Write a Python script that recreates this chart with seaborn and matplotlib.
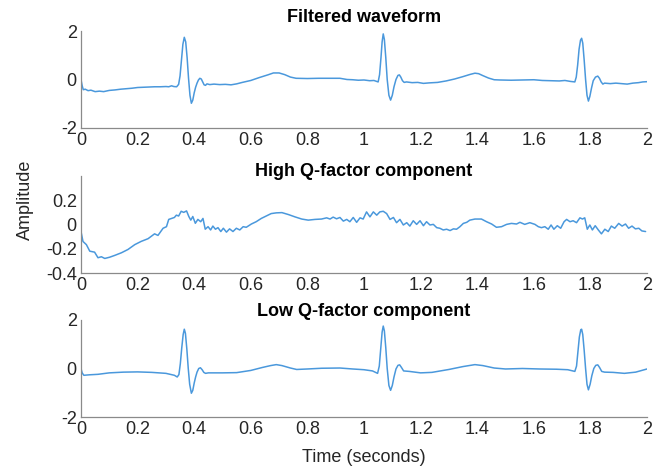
import matplotlib
matplotlib.use("Agg")
import matplotlib.pyplot as plt
import seaborn as sns
import pandas as pd

# ---------------- data ----------------
filt_t = [0.000, 0.004, 0.008, 0.015, 0.025, 0.035, 0.050, 0.065, 0.080, 0.100,
          0.120, 0.140, 0.160, 0.180, 0.200, 0.220, 0.240, 0.260, 0.280, 0.300,
          0.310, 0.320, 0.328, 0.338, 0.345, 0.350, 0.355, 0.360, 0.365, 0.370,
          0.375, 0.380, 0.385, 0.390, 0.395, 0.400, 0.405, 0.410, 0.415, 0.420,
          0.425, 0.430, 0.435, 0.440, 0.445, 0.455, 0.470, 0.490, 0.510, 0.530,
          0.550, 0.570, 0.600, 0.630, 0.660, 0.680, 0.700, 0.720, 0.740, 0.760,
          0.800, 0.840, 0.880, 0.915, 0.940, 0.960, 0.980, 1.000, 1.020, 1.035,
          1.045, 1.050, 1.055, 1.060, 1.064, 1.068, 1.072, 1.077, 1.082, 1.088,
          1.094, 1.100, 1.106, 1.113, 1.120, 1.125, 1.130, 1.136, 1.142, 1.150,
          1.170, 1.190, 1.210, 1.230, 1.260, 1.290, 1.320, 1.350, 1.375, 1.392,
          1.405, 1.420, 1.440, 1.460, 1.480, 1.520, 1.560, 1.600, 1.630, 1.660,
          1.690, 1.710, 1.730, 1.745, 1.750, 1.755, 1.760, 1.765, 1.769, 1.773,
          1.778, 1.783, 1.788, 1.793, 1.798, 1.804, 1.810, 1.818, 1.826, 1.832,
          1.838, 1.844, 1.850, 1.870, 1.890, 1.910, 1.930, 1.950, 1.970, 1.985,
          2.000]
filt_v = [0.00, -0.25, -0.42, -0.40, -0.46, -0.44, -0.50, -0.48, -0.50, -0.45,
          -0.43, -0.40, -0.38, -0.36, -0.33, -0.32, -0.31, -0.30, -0.30, -0.29,
          -0.30, -0.26, -0.29, -0.30, -0.20, 0.15, 0.80, 1.45, 1.74, 1.55,
          0.90, 0.05, -0.65, -0.98, -0.85, -0.55, -0.32, -0.15, -0.02, 0.05,
          0.02, -0.10, -0.22, -0.24, -0.18, -0.21, -0.19, -0.21, -0.20, -0.22,
          -0.18, -0.12, -0.04, 0.08, 0.19, 0.27, 0.27, 0.20, 0.10, 0.05,
          0.04, 0.05, 0.05, 0.05, 0.00, -0.01, -0.03, -0.02, -0.05, -0.04,
          -0.08, -0.10, 0.20, 0.90, 1.55, 1.88, 1.65, 0.90, 0.00, -0.65,
          -0.85, -0.65, -0.30, 0.00, 0.17, 0.19, 0.10, -0.05, -0.12, -0.10,
          -0.13, -0.12, -0.16, -0.14, -0.12, -0.06, 0.02, 0.12, 0.21, 0.26,
          0.24, 0.16, 0.06, -0.01, -0.02, -0.03, -0.02, -0.01, -0.04, -0.05,
          -0.06, -0.04, -0.08, -0.10, 0.10, 0.60, 1.25, 1.62, 1.70, 1.50,
          0.80, 0.00, -0.65, -0.89, -0.70, -0.35, -0.05, 0.10, 0.14, 0.05,
          -0.10, -0.19, -0.15, -0.17, -0.15, -0.17, -0.19, -0.15, -0.13, -0.10,
          -0.09]

highq_t = [0.000, 0.007, 0.019, 0.031, 0.048, 0.060, 0.072, 0.084, 0.101, 0.119,
           0.143, 0.166, 0.190, 0.213, 0.237, 0.260, 0.272, 0.290, 0.302, 0.310,
           0.320, 0.330, 0.337, 0.345, 0.354, 0.363, 0.373, 0.381, 0.388, 0.395,
           0.404, 0.413, 0.423, 0.431, 0.439, 0.449, 0.458, 0.466, 0.475, 0.484,
           0.494, 0.503, 0.514, 0.525, 0.537, 0.549, 0.561, 0.573, 0.584, 0.602,
           0.619, 0.637, 0.654, 0.672, 0.690, 0.710, 0.733, 0.756, 0.780, 0.803,
           0.827, 0.850, 0.868, 0.880, 0.891, 0.903, 0.915, 0.927, 0.939, 0.950,
           0.962, 0.974, 0.986, 0.997, 1.009, 1.021, 1.033, 1.045, 1.056, 1.068,
           1.080, 1.092, 1.104, 1.115, 1.127, 1.139, 1.151, 1.162, 1.174, 1.186,
           1.198, 1.210, 1.221, 1.233, 1.245, 1.257, 1.268, 1.280, 1.292, 1.304,
           1.316, 1.327, 1.339, 1.351, 1.363, 1.374, 1.392, 1.415, 1.433, 1.451,
           1.468, 1.486, 1.504, 1.521, 1.539, 1.551, 1.568, 1.586, 1.604, 1.616,
           1.627, 1.639, 1.651, 1.661, 1.671, 1.683, 1.695, 1.707, 1.716, 1.728,
           1.739, 1.751, 1.763, 1.772, 1.780, 1.789, 1.798, 1.807, 1.817, 1.828,
           1.839, 1.851, 1.863, 1.874, 1.886, 1.900, 1.912, 1.924, 1.935, 1.947,
           1.959, 1.971, 1.982, 1.995]
highq_v = [-0.058, -0.140, -0.166, -0.220, -0.228, -0.274, -0.266, -0.280, -0.270, -0.255,
           -0.233, -0.206, -0.166, -0.139, -0.117, -0.077, -0.090, -0.031, -0.018, 0.042,
           0.050, 0.058, 0.077, 0.070, 0.109, 0.100, 0.112, 0.066, 0.036, 0.066,
           0.010, 0.042, 0.023, 0.050, -0.039, -0.018, -0.045, -0.013, -0.039, -0.026,
           -0.058, -0.031, -0.063, -0.036, -0.058, -0.031, -0.045, -0.018, -0.023, 0.004,
           0.023, 0.050, 0.069, 0.090, 0.096, 0.098, 0.082, 0.063, 0.045, 0.036,
           0.042, 0.045, 0.055, 0.045, 0.061, 0.047, 0.058, 0.028, 0.042, 0.023,
           0.058, 0.018, 0.055, 0.045, 0.104, 0.063, 0.104, 0.077, 0.104, 0.109,
           0.090, 0.042, 0.058, 0.015, 0.042, -0.004, 0.015, -0.013, 0.031, 0.001,
           0.031, -0.010, 0.023, -0.004, 0.001, -0.026, -0.031, -0.045, -0.039, -0.050,
           -0.036, -0.039, -0.018, 0.009, 0.018, 0.036, 0.045, 0.045, 0.023, 0.004,
           -0.023, -0.018, 0.001, 0.009, 0.004, 0.018, 0.001, 0.015, 0.001, -0.018,
           -0.026, -0.018, -0.039, -0.004, -0.039, -0.010, -0.031, 0.023, 0.042, 0.023,
           0.031, 0.015, 0.055, 0.045, 0.055, -0.039, -0.004, -0.045, -0.010, -0.045,
           -0.077, -0.039, -0.058, -0.013, -0.031, 0.009, -0.013, 0.004, -0.031, -0.013,
           -0.036, -0.031, -0.053, -0.058]

lowq_t = [0.000, 0.004, 0.010, 0.030, 0.060, 0.100, 0.150, 0.200, 0.250, 0.300,
          0.330, 0.340, 0.346, 0.351, 0.356, 0.361, 0.365, 0.369, 0.374, 0.379,
          0.384, 0.390, 0.395, 0.400, 0.405, 0.410, 0.416, 0.422, 0.428, 0.434,
          0.440, 0.450, 0.500, 0.550, 0.600, 0.640, 0.670, 0.690, 0.710, 0.740,
          0.762, 0.800, 0.850, 0.915, 0.960, 1.000, 1.030, 1.048, 1.054, 1.059,
          1.064, 1.068, 1.072, 1.077, 1.082, 1.088, 1.094, 1.100, 1.106, 1.113,
          1.120, 1.126, 1.132, 1.140, 1.160, 1.200, 1.240, 1.300, 1.350, 1.392,
          1.420, 1.460, 1.500, 1.560, 1.620, 1.680, 1.720, 1.745, 1.751, 1.756,
          1.761, 1.766, 1.769, 1.773, 1.778, 1.783, 1.788, 1.793, 1.799, 1.805,
          1.812, 1.819, 1.826, 1.832, 1.840, 1.850, 1.880, 1.920, 1.960, 2.000]
lowq_v = [0.00, -0.18, -0.28, -0.26, -0.24, -0.18, -0.15, -0.14, -0.16, -0.20,
          -0.28, -0.35, -0.25, 0.20, 0.85, 1.40, 1.62, 1.45, 0.80, 0.00,
          -0.65, -1.02, -0.90, -0.60, -0.35, -0.15, 0.00, 0.03, -0.05, -0.16,
          -0.20, -0.18, -0.18, -0.17, -0.08, 0.04, 0.12, 0.16, 0.12, 0.02,
          -0.04, -0.02, 0.01, 0.02, -0.02, -0.05, -0.10, -0.20, 0.10, 0.80,
          1.50, 1.75, 1.55, 0.85, 0.00, -0.70, -0.90, -0.70, -0.35, -0.02,
          0.13, 0.15, 0.05, -0.10, -0.12, -0.18, -0.16, -0.04, 0.08, 0.16,
          0.12, 0.02, -0.02, 0.00, -0.02, -0.03, -0.05, -0.12, 0.10, 0.70,
          1.30, 1.60, 1.62, 1.40, 0.75, 0.00, -0.65, -0.88, -0.65, -0.30,
          0.00, 0.13, 0.15, 0.05, -0.12, -0.15, -0.16, -0.20, -0.15, -0.02]

titles = ["Filtered waveform", "High Q-factor component", "Low Q-factor component"]
x_ticks = [0, 0.2, 0.4, 0.6, 0.8, 1, 1.2, 1.4, 1.6, 1.8, 2]
x_ticklabels = ["0", "0.2", "0.4", "0.6", "0.8", "1", "1.2", "1.4", "1.6", "1.8", "2"]
y_ticks_big = [-2, 0, 2]
y_ticks_small = [-0.4, -0.2, 0, 0.2]
y_ticklabels_small = ["-0.4", "-0.2", "0", "0.2"]

# ---------------- styling ----------------
sns.set_style("white")
plt.rcParams["font.family"] = ["Liberation Sans", "DejaVu Sans"]
plt.rcParams["axes.unicode_minus"] = False

W, H = 661, 468
fig = plt.figure(figsize=(W / 100, H / 100), dpi=100)

line_color = "#4a98dc"
spine_color = "#8a8a8a"
text_color = "#262626"

# axes boxes in pixels: (left, top, right, bottom)
boxes = [(81, 31, 647, 128), (81, 176, 647, 273), (81, 320, 647, 417)]
title_y = [18, 171, 311]

series = [(filt_t, filt_v), (highq_t, highq_v), (lowq_t, lowq_v)]
ylims = [(-2, 2), (-0.4, 0.4), (-2, 2)]

for i, ((l, t, r, b), (xs, ys)) in enumerate(zip(boxes, series)):
    ax = fig.add_axes([l / W, 1 - b / H, (r - l) / W, (b - t) / H])
    df = pd.DataFrame({"t": xs, "v": ys})
    sns.lineplot(data=df, x="t", y="v", ax=ax, color=line_color, linewidth=1.1,
                 estimator=None, sort=False)
    ax.set_xlim(0, 2)
    ax.set_ylim(*ylims[i])
    ax.set_xticks(x_ticks)
    ax.set_xticklabels(x_ticklabels)
    if i == 1:
        ax.set_yticks(y_ticks_small)
        ax.set_yticklabels(y_ticklabels_small)
    else:
        ax.set_yticks(y_ticks_big)
        ax.set_yticklabels([str(v) for v in y_ticks_big])
    ax.set_xlabel("")
    ax.set_ylabel("")
    for side in ["top", "right"]:
        ax.spines[side].set_visible(False)
    for side in ["left", "bottom"]:
        ax.spines[side].set_color(spine_color)
        ax.spines[side].set_linewidth(0.9)
    ax.tick_params(axis="both", direction="in", length=4, width=0.9,
                   color=spine_color, labelsize=13, labelcolor=text_color, pad=3)
    ax.set_facecolor("white")
    fig.text(364 / W, 1 - title_y[i] / H, titles[i], ha="center", va="center",
             fontsize=13, fontweight="bold", color="black")

fig.text(25 / W, 1 - 200 / H, "Amplitude", rotation=90, ha="center", va="center",
         fontsize=13, color=text_color)
fig.text(364 / W, 1 - 457 / H, "Time (seconds)", ha="center", va="center",
         fontsize=13, color=text_color)

fig.savefig("out.png", dpi=100, facecolor="white")
